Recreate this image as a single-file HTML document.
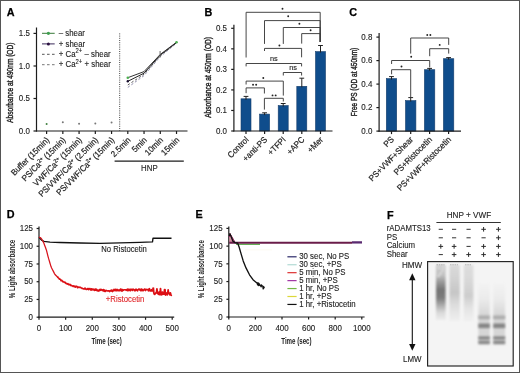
<!DOCTYPE html>
<html><head><meta charset="utf-8"><style>
html,body{margin:0;padding:0;background:#fff;}
svg{display:block;filter:blur(0.35px);}
text{font-family:"Liberation Sans",sans-serif;}
</style></head><body>
<svg width="520" height="373" viewBox="0 0 520 373">
<rect x="0" y="0" width="520" height="373" fill="#fff"/>
<text transform="translate(6.8,16.2) scale(1,1)" font-size="10.8" text-anchor="start" fill="#000" font-weight="bold" stroke="#000" stroke-width="0.25">A</text>
<line x1="36.5" y1="27.5" x2="36.5" y2="131.55" stroke="#1c1c1c" stroke-width="1.2" />
<line x1="35.95" y1="131" x2="187.5" y2="131" stroke="#1c1c1c" stroke-width="1.2" />
<line x1="33.5" y1="33.4" x2="36.5" y2="33.4" stroke="#1c1c1c" stroke-width="1.2" />
<text transform="translate(29.8,36.1) scale(0.93,1)" font-size="8.56" text-anchor="end" fill="#222" font-weight="normal" stroke="#222" stroke-width="0.12" >1.5</text>
<line x1="33.5" y1="66" x2="36.5" y2="66" stroke="#1c1c1c" stroke-width="1.2" />
<text transform="translate(29.8,68.7) scale(0.93,1)" font-size="8.56" text-anchor="end" fill="#222" font-weight="normal" stroke="#222" stroke-width="0.12" >1.0</text>
<line x1="33.5" y1="98.5" x2="36.5" y2="98.5" stroke="#1c1c1c" stroke-width="1.2" />
<text transform="translate(29.8,101.2) scale(0.93,1)" font-size="8.56" text-anchor="end" fill="#222" font-weight="normal" stroke="#222" stroke-width="0.12" >0.5</text>
<line x1="33.5" y1="131" x2="36.5" y2="131" stroke="#1c1c1c" stroke-width="1.2" />
<text transform="translate(29.8,133.7) scale(0.93,1)" font-size="8.56" text-anchor="end" fill="#222" font-weight="normal" stroke="#222" stroke-width="0.12" >0.0</text>
<line x1="46.6" y1="131" x2="46.6" y2="134" stroke="#1c1c1c" stroke-width="1.2" />
<line x1="62.84" y1="131" x2="62.84" y2="134" stroke="#1c1c1c" stroke-width="1.2" />
<line x1="79.08" y1="131" x2="79.08" y2="134" stroke="#1c1c1c" stroke-width="1.2" />
<line x1="95.32" y1="131" x2="95.32" y2="134" stroke="#1c1c1c" stroke-width="1.2" />
<line x1="111.56" y1="131" x2="111.56" y2="134" stroke="#1c1c1c" stroke-width="1.2" />
<line x1="127.8" y1="131" x2="127.8" y2="134" stroke="#1c1c1c" stroke-width="1.2" />
<line x1="144.04" y1="131" x2="144.04" y2="134" stroke="#1c1c1c" stroke-width="1.2" />
<line x1="160.28" y1="131" x2="160.28" y2="134" stroke="#1c1c1c" stroke-width="1.2" />
<line x1="176.52" y1="131" x2="176.52" y2="134" stroke="#1c1c1c" stroke-width="1.2" />
<text transform="translate(12.9,82.7) rotate(-90) scale(1,1)" font-size="9" text-anchor="middle" fill="#222" font-weight="normal" textLength="80.1" lengthAdjust="spacingAndGlyphs" stroke="#222" stroke-width="0.4">Absorbance at 490nm (OD)</text>
<line x1="119.7" y1="33.4" x2="119.7" y2="131" stroke="#444" stroke-width="1.0" stroke-dasharray="1 1.2"/>
<circle cx="46.6" cy="123.9" r="1.0" fill="#3f7f3f"/>
<circle cx="62.84" cy="122.2" r="1.0" fill="#777"/>
<circle cx="79.08" cy="123.7" r="1.0" fill="#777"/>
<circle cx="95.32" cy="123.5" r="1.0" fill="#777"/>
<circle cx="111.56" cy="122.6" r="1.0" fill="#777"/>
<polyline points="127.8,87.4 144.04,75.6 160.28,56.6 176.52,43.2" fill="none" stroke="#8a88a8" stroke-width="0.95" stroke-linejoin="round" stroke-dasharray="2.4 2"/>
<polyline points="127.8,85 144.04,74.2 160.28,55.8 176.52,42.8" fill="none" stroke="#555" stroke-width="0.95" stroke-linejoin="round" stroke-dasharray="2.4 2"/>
<polyline points="127.8,81.3 144.04,73.2 160.28,55 176.52,42.6" fill="none" stroke="#222" stroke-width="1.0" stroke-linejoin="round" />
<polyline points="127.8,77.7 144.04,71.6 160.28,54.4 176.52,42.2" fill="none" stroke="#333" stroke-width="1.0" stroke-linejoin="round" />
<circle cx="127.8" cy="77.7" r="1.3" fill="#4caf50"/>
<circle cx="176.52" cy="42.2" r="1.3" fill="#4caf50"/>
<circle cx="127.8" cy="81.3" r="1.2" fill="#1a1030"/>
<line x1="160.1" y1="51" x2="160.1" y2="57.5" stroke="#555" stroke-width="0.9" />
<line x1="42" y1="33.3" x2="54.7" y2="33.3" stroke="#3a7a3a" stroke-width="1.0" />
<circle cx="48.4" cy="33.3" r="1.6" fill="#3f9f4f"/>
<line x1="42" y1="43.9" x2="54.7" y2="43.9" stroke="#3a2a5a" stroke-width="1.0" />
<circle cx="48.4" cy="43.9" r="1.5" fill="#2a1040"/>
<line x1="42" y1="54.3" x2="54.7" y2="54.3" stroke="#555" stroke-width="1.0" stroke-dasharray="2.6 2.4"/>
<line x1="42" y1="64.7" x2="54.7" y2="64.7" stroke="#777" stroke-width="1.0" stroke-dasharray="2.6 2.4"/>
<text transform="translate(58.8,35.9) scale(0.93,1)" font-size="8.45" text-anchor="start" fill="#222" font-weight="normal" stroke="#222" stroke-width="0.12" >– shear</text>
<text transform="translate(58.8,46.5) scale(0.93,1)" font-size="8.45" text-anchor="start" fill="#222" font-weight="normal" stroke="#222" stroke-width="0.12" >+ shear</text>
<text transform="translate(58.8,56.9) scale(0.93,1)" font-size="8.45" text-anchor="start" fill="#222" font-weight="normal" stroke="#222" stroke-width="0.12" >+ Ca<tspan font-size="6.3" dy="-3.5">2+</tspan><tspan dy="3.5"> </tspan> – shear</text>
<text transform="translate(58.8,67.3) scale(0.93,1)" font-size="8.45" text-anchor="start" fill="#222" font-weight="normal" stroke="#222" stroke-width="0.12" >+ Ca<tspan font-size="6.3" dy="-3.5">2+</tspan><tspan dy="3.5"> </tspan>+ shear</text>
<text transform="translate(50,140.6) rotate(-45) scale(0.93,1)" font-size="8.56" text-anchor="end" fill="#222" font-weight="normal" stroke="#222" stroke-width="0.2">Buffer (15min)</text>
<text transform="translate(66.24,140.6) rotate(-45) scale(0.93,1)" font-size="8.56" text-anchor="end" fill="#222" font-weight="normal" stroke="#222" stroke-width="0.2">PS/Ca<tspan font-size="5.6" dy="-2.9">2+</tspan><tspan dy="2.9"> (</tspan>15min)</text>
<text transform="translate(82.48,140.6) rotate(-45) scale(0.93,1)" font-size="8.56" text-anchor="end" fill="#222" font-weight="normal" stroke="#222" stroke-width="0.2">VWF/Ca<tspan font-size="5.6" dy="-2.9">2+</tspan><tspan dy="2.9"> (</tspan>15min)</text>
<text transform="translate(98.72,140.6) rotate(-45) scale(0.93,1)" font-size="8.56" text-anchor="end" fill="#222" font-weight="normal" stroke="#222" stroke-width="0.2">PS/VWF/Ca<tspan font-size="5.6" dy="-2.9">2+</tspan><tspan dy="2.9"> (</tspan>2.5min)</text>
<text transform="translate(114.96,140.6) rotate(-45) scale(0.93,1)" font-size="8.56" text-anchor="end" fill="#222" font-weight="normal" stroke="#222" stroke-width="0.2">PS/VWF/Ca<tspan font-size="5.6" dy="-2.9">2+</tspan><tspan dy="2.9"> (</tspan>15min)</text>
<text transform="translate(131.2,140.6) rotate(-45) scale(0.93,1)" font-size="8.56" text-anchor="end" fill="#222" font-weight="normal" stroke="#222" stroke-width="0.2">2.5min</text>
<text transform="translate(147.44,140.6) rotate(-45) scale(0.93,1)" font-size="8.56" text-anchor="end" fill="#222" font-weight="normal" stroke="#222" stroke-width="0.2">5min</text>
<text transform="translate(163.68,140.6) rotate(-45) scale(0.93,1)" font-size="8.56" text-anchor="end" fill="#222" font-weight="normal" stroke="#222" stroke-width="0.2">10min</text>
<text transform="translate(179.92,140.6) rotate(-45) scale(0.93,1)" font-size="8.56" text-anchor="end" fill="#222" font-weight="normal" stroke="#222" stroke-width="0.2">15min</text>
<line x1="114.6" y1="161.1" x2="183.8" y2="161.1" stroke="#1c1c1c" stroke-width="1.1" />
<text transform="translate(149.4,171) scale(0.93,1)" font-size="8.45" text-anchor="middle" fill="#222" font-weight="normal" stroke="#222" stroke-width="0.12" >HNP</text>
<text transform="translate(204.5,16.3) scale(1,1)" font-size="10.8" text-anchor="start" fill="#000" font-weight="bold" stroke="#000" stroke-width="0.25">B</text>
<line x1="233.9" y1="24.7" x2="233.9" y2="131.55" stroke="#1c1c1c" stroke-width="1.2" />
<line x1="231.2" y1="131" x2="233.9" y2="131" stroke="#1c1c1c" stroke-width="1.2" />
<text transform="translate(227,133.7) scale(0.93,1)" font-size="8.56" text-anchor="end" fill="#222" font-weight="normal" stroke="#222" stroke-width="0.12" >0.0</text>
<line x1="231.2" y1="110.46" x2="233.9" y2="110.46" stroke="#1c1c1c" stroke-width="1.2" />
<text transform="translate(227,113.16) scale(0.93,1)" font-size="8.56" text-anchor="end" fill="#222" font-weight="normal" stroke="#222" stroke-width="0.12" >0.1</text>
<line x1="231.2" y1="89.92" x2="233.9" y2="89.92" stroke="#1c1c1c" stroke-width="1.2" />
<text transform="translate(227,92.62) scale(0.93,1)" font-size="8.56" text-anchor="end" fill="#222" font-weight="normal" stroke="#222" stroke-width="0.12" >0.2</text>
<line x1="231.2" y1="69.38" x2="233.9" y2="69.38" stroke="#1c1c1c" stroke-width="1.2" />
<text transform="translate(227,72.08) scale(0.93,1)" font-size="8.56" text-anchor="end" fill="#222" font-weight="normal" stroke="#222" stroke-width="0.12" >0.3</text>
<line x1="231.2" y1="48.84" x2="233.9" y2="48.84" stroke="#1c1c1c" stroke-width="1.2" />
<text transform="translate(227,51.54) scale(0.93,1)" font-size="8.56" text-anchor="end" fill="#222" font-weight="normal" stroke="#222" stroke-width="0.12" >0.4</text>
<line x1="231.2" y1="28.3" x2="233.9" y2="28.3" stroke="#1c1c1c" stroke-width="1.2" />
<text transform="translate(227,31) scale(0.93,1)" font-size="8.56" text-anchor="end" fill="#222" font-weight="normal" stroke="#222" stroke-width="0.12" >0.5</text>
<text transform="translate(210.9,77.4) rotate(-90) scale(1,1)" font-size="9" text-anchor="middle" fill="#222" font-weight="normal" textLength="80.8" lengthAdjust="spacingAndGlyphs" stroke="#222" stroke-width="0.4">Absorbance at 450nm (OD)</text>
<line x1="246" y1="131" x2="246" y2="134" stroke="#1c1c1c" stroke-width="1.2" />
<rect x="241" y="98.8" width="10" height="32.2" fill="#0f4d8c" stroke="#173f6c" stroke-width="0.6"/>
<line x1="246" y1="96.4" x2="246" y2="99.8" stroke="#222" stroke-width="1.0" />
<line x1="243.6" y1="96.4" x2="248.4" y2="96.4" stroke="#222" stroke-width="1.0" />
<line x1="264.6" y1="131" x2="264.6" y2="134" stroke="#1c1c1c" stroke-width="1.2" />
<rect x="259.6" y="114.1" width="10" height="16.9" fill="#0f4d8c" stroke="#173f6c" stroke-width="0.6"/>
<line x1="264.6" y1="112.8" x2="264.6" y2="115.1" stroke="#222" stroke-width="1.0" />
<line x1="262.2" y1="112.8" x2="267" y2="112.8" stroke="#222" stroke-width="1.0" />
<line x1="283.2" y1="131" x2="283.2" y2="134" stroke="#1c1c1c" stroke-width="1.2" />
<rect x="278.2" y="105.6" width="10" height="25.4" fill="#0f4d8c" stroke="#173f6c" stroke-width="0.6"/>
<line x1="283.2" y1="103.5" x2="283.2" y2="106.6" stroke="#222" stroke-width="1.0" />
<line x1="280.8" y1="103.5" x2="285.6" y2="103.5" stroke="#222" stroke-width="1.0" />
<line x1="301.8" y1="131" x2="301.8" y2="134" stroke="#1c1c1c" stroke-width="1.2" />
<rect x="296.8" y="86.3" width="10" height="44.7" fill="#0f4d8c" stroke="#173f6c" stroke-width="0.6"/>
<line x1="301.8" y1="78.2" x2="301.8" y2="87.3" stroke="#222" stroke-width="1.0" />
<line x1="299.4" y1="78.2" x2="304.2" y2="78.2" stroke="#222" stroke-width="1.0" />
<line x1="320.5" y1="131" x2="320.5" y2="134" stroke="#1c1c1c" stroke-width="1.2" />
<rect x="315.5" y="51.6" width="10" height="79.4" fill="#0f4d8c" stroke="#173f6c" stroke-width="0.6"/>
<line x1="320.5" y1="45.5" x2="320.5" y2="52.6" stroke="#222" stroke-width="1.0" />
<line x1="318.1" y1="45.5" x2="322.9" y2="45.5" stroke="#222" stroke-width="1.0" />
<line x1="233.35" y1="131" x2="332.5" y2="131" stroke="#1c1c1c" stroke-width="1.2" />
<polyline points="246.1,57.5 246.1,12.3 320.2,12.3 320.2,42" fill="none" stroke="#3c3c3c" stroke-width="0.95" stroke-linejoin="round" />
<polyline points="264.5,43.9 264.5,20.6 320.2,20.6 320.2,42" fill="none" stroke="#3c3c3c" stroke-width="0.95" stroke-linejoin="round" />
<polyline points="283.3,43.9 283.3,27.5 320.2,27.5 320.2,42" fill="none" stroke="#3c3c3c" stroke-width="0.95" stroke-linejoin="round" />
<polyline points="301.7,43.6 301.7,33.6 320.2,33.6 320.2,42" fill="none" stroke="#3c3c3c" stroke-width="0.95" stroke-linejoin="round" />
<polyline points="264.5,51 264.5,48.4 301.6,48.4 301.6,57.3" fill="none" stroke="#3c3c3c" stroke-width="0.95" stroke-linejoin="round" />
<polyline points="246.1,66.4 246.1,63.5 301.6,63.5 301.6,66.4" fill="none" stroke="#3c3c3c" stroke-width="0.95" stroke-linejoin="round" />
<polyline points="283.3,75.5 283.3,72.5 301.6,72.5 301.6,75.5" fill="none" stroke="#3c3c3c" stroke-width="0.95" stroke-linejoin="round" />
<polyline points="246.1,84.5 246.1,81.1 283.3,81.1 283.3,95.6" fill="none" stroke="#3c3c3c" stroke-width="0.95" stroke-linejoin="round" />
<polyline points="246.1,93.2 246.1,87.9 264.4,87.9 264.4,93.5" fill="none" stroke="#3c3c3c" stroke-width="0.95" stroke-linejoin="round" />
<polyline points="264.4,109.6 264.4,98.3 283.3,98.3 283.3,101.5" fill="none" stroke="#3c3c3c" stroke-width="0.95" stroke-linejoin="round" />
<circle cx="282.5" cy="8.8" r="0.95" fill="#222"/>
<circle cx="288.2" cy="16.3" r="0.95" fill="#222"/>
<circle cx="299.4" cy="23.7" r="0.95" fill="#222"/>
<circle cx="310.6" cy="30.3" r="0.95" fill="#222"/>
<circle cx="279.4" cy="45.5" r="0.95" fill="#222"/>
<circle cx="263.3" cy="78" r="0.95" fill="#222"/>
<circle cx="253.05" cy="84.7" r="0.95" fill="#222"/>
<circle cx="256.15" cy="84.7" r="0.95" fill="#222"/>
<circle cx="272.55" cy="95.4" r="0.95" fill="#222"/>
<circle cx="275.65" cy="95.4" r="0.95" fill="#222"/>
<text transform="translate(273.8,60.7) scale(0.93,1)" font-size="7.92" text-anchor="middle" fill="#222" font-weight="normal" stroke="#222" stroke-width="0.12" >ns</text>
<text transform="translate(293.1,70.1) scale(0.93,1)" font-size="7.92" text-anchor="middle" fill="#222" font-weight="normal" stroke="#222" stroke-width="0.12" >ns</text>
<text transform="translate(249.2,140.3) rotate(-45) scale(0.93,1)" font-size="8.56" text-anchor="end" fill="#222" font-weight="normal" stroke="#222" stroke-width="0.2">Control</text>
<text transform="translate(267.8,140.3) rotate(-45) scale(0.93,1)" font-size="8.56" text-anchor="end" fill="#222" font-weight="normal" stroke="#222" stroke-width="0.2">+anti-PS</text>
<text transform="translate(286.4,140.3) rotate(-45) scale(0.93,1)" font-size="8.56" text-anchor="end" fill="#222" font-weight="normal" stroke="#222" stroke-width="0.2">+TFPI</text>
<text transform="translate(305,140.3) rotate(-45) scale(0.93,1)" font-size="8.56" text-anchor="end" fill="#222" font-weight="normal" stroke="#222" stroke-width="0.2">+APC</text>
<text transform="translate(323.7,140.3) rotate(-45) scale(0.93,1)" font-size="8.56" text-anchor="end" fill="#222" font-weight="normal" stroke="#222" stroke-width="0.2">+Mer</text>
<text transform="translate(349.3,16.3) scale(1,1)" font-size="10.8" text-anchor="start" fill="#000" font-weight="bold" stroke="#000" stroke-width="0.25">C</text>
<line x1="379.1" y1="33.1" x2="379.1" y2="131.65" stroke="#1c1c1c" stroke-width="1.2" />
<line x1="376.4" y1="131.1" x2="379.1" y2="131.1" stroke="#1c1c1c" stroke-width="1.2" />
<text transform="translate(372.4,133.8) scale(0.93,1)" font-size="8.56" text-anchor="end" fill="#222" font-weight="normal" stroke="#222" stroke-width="0.12" >0.0</text>
<line x1="376.4" y1="107.6" x2="379.1" y2="107.6" stroke="#1c1c1c" stroke-width="1.2" />
<text transform="translate(372.4,110.3) scale(0.93,1)" font-size="8.56" text-anchor="end" fill="#222" font-weight="normal" stroke="#222" stroke-width="0.12" >0.2</text>
<line x1="376.4" y1="84.1" x2="379.1" y2="84.1" stroke="#1c1c1c" stroke-width="1.2" />
<text transform="translate(372.4,86.8) scale(0.93,1)" font-size="8.56" text-anchor="end" fill="#222" font-weight="normal" stroke="#222" stroke-width="0.12" >0.4</text>
<line x1="376.4" y1="60.6" x2="379.1" y2="60.6" stroke="#1c1c1c" stroke-width="1.2" />
<text transform="translate(372.4,63.3) scale(0.93,1)" font-size="8.56" text-anchor="end" fill="#222" font-weight="normal" stroke="#222" stroke-width="0.12" >0.6</text>
<line x1="376.4" y1="37.1" x2="379.1" y2="37.1" stroke="#1c1c1c" stroke-width="1.2" />
<text transform="translate(372.4,39.8) scale(0.93,1)" font-size="8.56" text-anchor="end" fill="#222" font-weight="normal" stroke="#222" stroke-width="0.12" >0.8</text>
<text transform="translate(357,82) rotate(-90) scale(1,1)" font-size="9" text-anchor="middle" fill="#222" font-weight="normal" textLength="68.4" lengthAdjust="spacingAndGlyphs" stroke="#222" stroke-width="0.4">Free PS (OD at 450nm)</text>
<line x1="391.5" y1="131.1" x2="391.5" y2="134.1" stroke="#1c1c1c" stroke-width="1.2" />
<rect x="386.3" y="78.6" width="10.4" height="52.5" fill="#0f4d8c" stroke="#173f6c" stroke-width="0.6"/>
<line x1="389.1" y1="76.6" x2="393.9" y2="76.6" stroke="#222" stroke-width="1.0" />
<line x1="391.5" y1="76.6" x2="391.5" y2="79.6" stroke="#222" stroke-width="1.0" />
<line x1="410.7" y1="131.1" x2="410.7" y2="134.1" stroke="#1c1c1c" stroke-width="1.2" />
<rect x="405.5" y="100.6" width="10.4" height="30.5" fill="#0f4d8c" stroke="#173f6c" stroke-width="0.6"/>
<line x1="408.3" y1="97.6" x2="413.1" y2="97.6" stroke="#222" stroke-width="1.0" />
<line x1="410.7" y1="97.6" x2="410.7" y2="101.6" stroke="#222" stroke-width="1.0" />
<line x1="429.6" y1="131.1" x2="429.6" y2="134.1" stroke="#1c1c1c" stroke-width="1.2" />
<rect x="424.4" y="69.7" width="10.4" height="61.4" fill="#0f4d8c" stroke="#173f6c" stroke-width="0.6"/>
<line x1="427.2" y1="68.4" x2="432" y2="68.4" stroke="#222" stroke-width="1.0" />
<line x1="429.6" y1="68.4" x2="429.6" y2="70.7" stroke="#222" stroke-width="1.0" />
<line x1="448.6" y1="131.1" x2="448.6" y2="134.1" stroke="#1c1c1c" stroke-width="1.2" />
<rect x="443.4" y="58.7" width="10.4" height="72.4" fill="#0f4d8c" stroke="#173f6c" stroke-width="0.6"/>
<line x1="446.2" y1="57.6" x2="451" y2="57.6" stroke="#222" stroke-width="1.0" />
<line x1="448.6" y1="57.6" x2="448.6" y2="59.7" stroke="#222" stroke-width="1.0" />
<line x1="378.55" y1="131.1" x2="461" y2="131.1" stroke="#1c1c1c" stroke-width="1.2" />
<polyline points="410.7,53.6 410.7,38 448.7,38 448.7,44.9" fill="none" stroke="#3c3c3c" stroke-width="0.95" stroke-linejoin="round" />
<polyline points="429.7,56.2 429.7,48.7 448.7,48.7 448.7,53.6" fill="none" stroke="#3c3c3c" stroke-width="0.95" stroke-linejoin="round" />
<polyline points="391.6,64 391.6,60.5 429.7,60.5 429.7,67.4" fill="none" stroke="#3c3c3c" stroke-width="0.95" stroke-linejoin="round" />
<polyline points="391.6,74.3 391.6,69.7 410.7,69.7 410.7,97.6" fill="none" stroke="#3c3c3c" stroke-width="0.95" stroke-linejoin="round" />
<circle cx="427.25" cy="35" r="0.95" fill="#222"/>
<circle cx="430.35" cy="35" r="0.95" fill="#222"/>
<circle cx="439.7" cy="44.9" r="0.95" fill="#222"/>
<circle cx="411.2" cy="56.7" r="0.95" fill="#222"/>
<circle cx="401.5" cy="66.5" r="0.95" fill="#222"/>
<text transform="translate(394.5,140.1) rotate(-45) scale(0.93,1)" font-size="8.56" text-anchor="end" fill="#222" font-weight="normal" stroke="#222" stroke-width="0.2">PS</text>
<text transform="translate(413.7,140.1) rotate(-45) scale(0.93,1)" font-size="8.56" text-anchor="end" fill="#222" font-weight="normal" stroke="#222" stroke-width="0.2">PS+VWF+Shear</text>
<text transform="translate(432.6,140.1) rotate(-45) scale(0.93,1)" font-size="8.56" text-anchor="end" fill="#222" font-weight="normal" stroke="#222" stroke-width="0.2">PS+Ristocetin</text>
<text transform="translate(451.6,140.1) rotate(-45) scale(0.93,1)" font-size="8.56" text-anchor="end" fill="#222" font-weight="normal" stroke="#222" stroke-width="0.2">PS+VWF+Ristocetin</text>
<text transform="translate(6.8,218.3) scale(1,1)" font-size="10.8" text-anchor="start" fill="#000" font-weight="bold" stroke="#000" stroke-width="0.25">D</text>
<line x1="39" y1="226.4" x2="39" y2="317.75" stroke="#1c1c1c" stroke-width="1.2" />
<line x1="38.45" y1="317.2" x2="174.2" y2="317.2" stroke="#1c1c1c" stroke-width="1.2" />
<line x1="36.6" y1="317.2" x2="39" y2="317.2" stroke="#1c1c1c" stroke-width="1.2" />
<text transform="translate(33,319.9) scale(0.93,1)" font-size="8.56" text-anchor="end" fill="#222" font-weight="normal" stroke="#222" stroke-width="0.12" >0</text>
<line x1="36.6" y1="299.46" x2="39" y2="299.46" stroke="#1c1c1c" stroke-width="1.2" />
<text transform="translate(33,302.16) scale(0.93,1)" font-size="8.56" text-anchor="end" fill="#222" font-weight="normal" stroke="#222" stroke-width="0.12" >25</text>
<line x1="36.6" y1="281.72" x2="39" y2="281.72" stroke="#1c1c1c" stroke-width="1.2" />
<text transform="translate(33,284.42) scale(0.93,1)" font-size="8.56" text-anchor="end" fill="#222" font-weight="normal" stroke="#222" stroke-width="0.12" >50</text>
<line x1="36.6" y1="263.98" x2="39" y2="263.98" stroke="#1c1c1c" stroke-width="1.2" />
<text transform="translate(33,266.68) scale(0.93,1)" font-size="8.56" text-anchor="end" fill="#222" font-weight="normal" stroke="#222" stroke-width="0.12" >75</text>
<line x1="36.6" y1="246.24" x2="39" y2="246.24" stroke="#1c1c1c" stroke-width="1.2" />
<text transform="translate(33,248.94) scale(0.93,1)" font-size="8.56" text-anchor="end" fill="#222" font-weight="normal" stroke="#222" stroke-width="0.12" >100</text>
<line x1="36.6" y1="228.5" x2="39" y2="228.5" stroke="#1c1c1c" stroke-width="1.2" />
<text transform="translate(33,231.2) scale(0.93,1)" font-size="8.56" text-anchor="end" fill="#222" font-weight="normal" stroke="#222" stroke-width="0.12" >125</text>
<line x1="39" y1="317.2" x2="39" y2="319.8" stroke="#1c1c1c" stroke-width="1.2" />
<text transform="translate(39,331) scale(0.93,1)" font-size="8.56" text-anchor="middle" fill="#222" font-weight="normal" stroke="#222" stroke-width="0.12" >0</text>
<line x1="65.64" y1="317.2" x2="65.64" y2="319.8" stroke="#1c1c1c" stroke-width="1.2" />
<text transform="translate(65.64,331) scale(0.93,1)" font-size="8.56" text-anchor="middle" fill="#222" font-weight="normal" stroke="#222" stroke-width="0.12" >100</text>
<line x1="92.28" y1="317.2" x2="92.28" y2="319.8" stroke="#1c1c1c" stroke-width="1.2" />
<text transform="translate(92.28,331) scale(0.93,1)" font-size="8.56" text-anchor="middle" fill="#222" font-weight="normal" stroke="#222" stroke-width="0.12" >200</text>
<line x1="118.92" y1="317.2" x2="118.92" y2="319.8" stroke="#1c1c1c" stroke-width="1.2" />
<text transform="translate(118.92,331) scale(0.93,1)" font-size="8.56" text-anchor="middle" fill="#222" font-weight="normal" stroke="#222" stroke-width="0.12" >300</text>
<line x1="145.56" y1="317.2" x2="145.56" y2="319.8" stroke="#1c1c1c" stroke-width="1.2" />
<text transform="translate(145.56,331) scale(0.93,1)" font-size="8.56" text-anchor="middle" fill="#222" font-weight="normal" stroke="#222" stroke-width="0.12" >400</text>
<line x1="172.2" y1="317.2" x2="172.2" y2="319.8" stroke="#1c1c1c" stroke-width="1.2" />
<text transform="translate(172.2,331) scale(0.93,1)" font-size="8.56" text-anchor="middle" fill="#222" font-weight="normal" stroke="#222" stroke-width="0.12" >500</text>
<text transform="translate(106.6,343.8) scale(1,1)" font-size="9" text-anchor="middle" fill="#222" font-weight="bold" textLength="30.3" lengthAdjust="spacingAndGlyphs" >Time (sec)</text>
<text transform="translate(14.5,269) rotate(-90) scale(1,1)" font-size="9" text-anchor="middle" fill="#222" font-weight="bold" textLength="58.6" lengthAdjust="spacingAndGlyphs">% Light absorbance</text>
<polyline points="39,237.4 41.5,240.1 44,241.4 50,242.1 60,242.5 80,243 100,243.3 120,242.8 140,242.3 152.5,241.9 153,238.2 171.5,238.2" fill="none" stroke="#111" stroke-width="1.35" stroke-linejoin="round" />
<text transform="translate(101.3,251.7) scale(0.93,1)" font-size="8.45" text-anchor="start" fill="#222" font-weight="normal" textLength="49.01" lengthAdjust="spacingAndGlyphs" stroke="#222" stroke-width="0.12" >No Ristocetin</text>
<polyline points="39,237.2 39.5,237.37 40,237.53 40.5,237.7 41,238.11 41.5,238.9 42,239.69 42.5,240.54 43,241.43 43.5,242.32 44,243.57 44.5,244.91 45,246.25 45.5,247.59 46,248.93 46.5,250.39 47,252.37 47.5,254.34 48,256.32 48.5,258.17 49,259.85 49.5,261.53 50,263.21 50.5,264.89 51,266.56 51.5,267.69 52,268.68 52.5,269.66 53,270.65 53.5,271.64 54,272.62 54.5,273.61 55,274.5 55.5,275 56,275.5 56.5,276 57,276.5 57.5,277 58,277.5" fill="none" stroke="#d8121b" stroke-width="1.25" stroke-linejoin="round" />
<polyline points="57.5,276.76 58,277.54 58.5,277.88 59,278.6 59.5,279.12 60,279.08 60.5,279.52 61,280.62 61.5,280.32 62,280.57 62.5,281.63 63,281.37 63.5,282.04 64,281.93 64.5,282.39 65,282.14 65.5,282.95 66,283.49 66.5,283.39 67,283.92 67.5,284.12 68,283.69 68.5,284.66 69,284.63 69.5,284.44 70,284.27 70.5,285.45 71,285.13 71.5,285.59 72,285.96 72.5,285.91 73,286.34 73.5,285.82 74,286.51 74.5,286.21 75,287.02 75.5,287.11 76,286.16 76.5,286.3 77,286.51 77.5,287.65 78,287.02 78.5,287.39 79,287.02 79.5,287.42 80,287.34 80.5,287.39 81,287.84 81.5,287.94 82,288.52 82.5,288.29 83,288.77 83.5,288.76 84,289.08 84.5,288.69 85,287.98 85.5,289.15 86,289.39 86.5,289.37 87,288.9 87.5,289.21 88,288.45 88.5,289.55 89,289.19 89.5,288.77 90,288.47 90.5,289.88 91,290.18 91.5,288.7 92,290 92.5,289.39 93,289 93.5,289.32 94,290.24 94.5,290.48 95,289.02 95.5,290.09 96,289.08 96.5,290.35 97,289.66 97.5,290.72 98,290.95 98.5,290.09 99,291.06 99.5,289.78 100,289.36 100.5,290.4 101,289.32 101.5,289.68 102,290.12 102.5,290.56 103,289.68 103.5,289.48 104,291.18 104.5,290.09 105,291.44 105.5,291.35 106,290.31 106.5,290.52 107,290.68 107.5,290.97 108,290.9 108.5,290.81 109,290.92 109.5,291.59 110,290.63 110.5,290.45 111,291.06 111.5,289.97 112,290.09 112.5,291.58 113,290.54 113.5,290.58 114,289.34 114.5,290.24 115,290.59 115.5,289.28 116,290.63 116.5,290.65 117,289.3 117.5,290.6 118,290.2 118.5,290.69 119,289.89 119.5,290.72 120,290.77 120.5,289.04 121,289.13 121.5,290.59 122,291.27 122.5,289.55 123,290.04 123.5,290.35 124,289.69 124.5,289.78 125,289.65 125.5,289.78 126,290.31 126.5,289.59 127,289.77 127.5,290.7 128,288.9 128.5,290.2 129,290.58 129.5,289.55 130,289.33 130.5,290.72 131,289.35 131.5,289.22 132,289.8 132.5,290.43 133,288.98 133.5,289.5 134,289.52 134.5,290.71 135,289.75 135.5,290.75 136,289.1 136.5,289.5 137,290.25 137.5,290.81 138,289.77 138.5,289.22 139,288.97 139.5,289.95 140,289.13 140.5,290.6 141,290.68 141.5,289.1 142,289.33 142.5,290.59 143,290.19 143.5,290.59 144,289.48 144.5,288.96 145,289.34 145.5,290.55 146,289.29 146.5,289.47 147,289.63 147.5,289.64 148,289.61 148.5,290.83 149,288.99 149.5,288.63 150,290.88 150.5,290.72 151,290.98 151.5,289.65 152,290.88 152.5,290.83 153,289.13 153.3,287.6" fill="none" stroke="#dc0f14" stroke-width="1.6" stroke-linejoin="round" />
<polyline points="153.3,287.6 153.8,292.5 154.2,293.98 154.65,294.28 155.1,293.77 155.55,293.36 156,292.69 156.45,292.86 156.9,289 157.35,292.08 157.8,293.66 158.25,292.77 158.7,294.36 159.15,292.08 159.6,294.67 160.05,294.06 160.5,288.6 160.95,294.71 161.4,294.74 161.85,293.78 162.3,292.11 162.75,294.33 163.2,292.62 163.65,293.03 164.1,294.13 164.55,289.6 165,289.6 165.45,295.02 165.9,294.05 166.35,293.26 166.8,293.01 167.25,294.85 167.7,293.72 168.15,290 168.6,293.38 169.05,292.93 169.5,293.96 169.95,294.83 170.4,292.91 170.85,294.79 171.3,295.2 171.75,294.87" fill="none" stroke="#dc0f14" stroke-width="1.8" stroke-linejoin="round" />
<text transform="translate(105.8,301.8) scale(0.93,1)" font-size="8.45" text-anchor="start" fill="#e0262a" font-weight="normal" textLength="41.52" lengthAdjust="spacingAndGlyphs" stroke="#e0262a" stroke-width="0.12" >+Ristocetin</text>
<text transform="translate(195.6,218.4) scale(1,1)" font-size="10.8" text-anchor="start" fill="#000" font-weight="bold" stroke="#000" stroke-width="0.25">E</text>
<line x1="228.8" y1="226.4" x2="228.8" y2="317.55" stroke="#1c1c1c" stroke-width="1.2" />
<line x1="228.25" y1="317" x2="364.6" y2="317" stroke="#1c1c1c" stroke-width="1.2" />
<line x1="226.4" y1="317" x2="228.8" y2="317" stroke="#1c1c1c" stroke-width="1.2" />
<text transform="translate(222.6,319.7) scale(0.93,1)" font-size="8.56" text-anchor="end" fill="#222" font-weight="normal" stroke="#222" stroke-width="0.12" >0</text>
<line x1="226.4" y1="299.28" x2="228.8" y2="299.28" stroke="#1c1c1c" stroke-width="1.2" />
<text transform="translate(222.6,301.98) scale(0.93,1)" font-size="8.56" text-anchor="end" fill="#222" font-weight="normal" stroke="#222" stroke-width="0.12" >25</text>
<line x1="226.4" y1="281.56" x2="228.8" y2="281.56" stroke="#1c1c1c" stroke-width="1.2" />
<text transform="translate(222.6,284.26) scale(0.93,1)" font-size="8.56" text-anchor="end" fill="#222" font-weight="normal" stroke="#222" stroke-width="0.12" >50</text>
<line x1="226.4" y1="263.84" x2="228.8" y2="263.84" stroke="#1c1c1c" stroke-width="1.2" />
<text transform="translate(222.6,266.54) scale(0.93,1)" font-size="8.56" text-anchor="end" fill="#222" font-weight="normal" stroke="#222" stroke-width="0.12" >75</text>
<line x1="226.4" y1="246.12" x2="228.8" y2="246.12" stroke="#1c1c1c" stroke-width="1.2" />
<text transform="translate(222.6,248.82) scale(0.93,1)" font-size="8.56" text-anchor="end" fill="#222" font-weight="normal" stroke="#222" stroke-width="0.12" >100</text>
<line x1="226.4" y1="228.4" x2="228.8" y2="228.4" stroke="#1c1c1c" stroke-width="1.2" />
<text transform="translate(222.6,231.1) scale(0.93,1)" font-size="8.56" text-anchor="end" fill="#222" font-weight="normal" stroke="#222" stroke-width="0.12" >125</text>
<line x1="228.8" y1="317" x2="228.8" y2="319.6" stroke="#1c1c1c" stroke-width="1.2" />
<text transform="translate(228.8,331) scale(0.93,1)" font-size="8.56" text-anchor="middle" fill="#222" font-weight="normal" stroke="#222" stroke-width="0.12" >0</text>
<line x1="255.4" y1="317" x2="255.4" y2="319.6" stroke="#1c1c1c" stroke-width="1.2" />
<text transform="translate(255.4,331) scale(0.93,1)" font-size="8.56" text-anchor="middle" fill="#222" font-weight="normal" stroke="#222" stroke-width="0.12" >200</text>
<line x1="282" y1="317" x2="282" y2="319.6" stroke="#1c1c1c" stroke-width="1.2" />
<text transform="translate(282,331) scale(0.93,1)" font-size="8.56" text-anchor="middle" fill="#222" font-weight="normal" stroke="#222" stroke-width="0.12" >400</text>
<line x1="308.6" y1="317" x2="308.6" y2="319.6" stroke="#1c1c1c" stroke-width="1.2" />
<text transform="translate(308.6,331) scale(0.93,1)" font-size="8.56" text-anchor="middle" fill="#222" font-weight="normal" stroke="#222" stroke-width="0.12" >600</text>
<line x1="335.2" y1="317" x2="335.2" y2="319.6" stroke="#1c1c1c" stroke-width="1.2" />
<text transform="translate(335.2,331) scale(0.93,1)" font-size="8.56" text-anchor="middle" fill="#222" font-weight="normal" stroke="#222" stroke-width="0.12" >800</text>
<line x1="361.8" y1="317" x2="361.8" y2="319.6" stroke="#1c1c1c" stroke-width="1.2" />
<text transform="translate(361.8,331) scale(0.93,1)" font-size="8.56" text-anchor="middle" fill="#222" font-weight="normal" stroke="#222" stroke-width="0.12" >1000</text>
<text transform="translate(296.4,343.8) scale(1,1)" font-size="9" text-anchor="middle" fill="#222" font-weight="bold" textLength="30.3" lengthAdjust="spacingAndGlyphs" >Time (sec)</text>
<text transform="translate(203.6,269.2) rotate(-90) scale(1,1)" font-size="9" text-anchor="middle" fill="#222" font-weight="bold" textLength="58.2" lengthAdjust="spacingAndGlyphs">% Light absorbance</text>
<path d="M229.2,236.5 L230.0,233.4 L235.2,242.0 L229.2,242.0 Z" fill="#c9718a" opacity="0.8"/>
<polyline points="229.2,237 230,233.6 234.8,242.2" fill="none" stroke="#b33a6a" stroke-width="0.9" stroke-linejoin="round" />
<polyline points="229.2,237 230,233.6 234.8,242.2" fill="none" stroke="#8d2a6a" stroke-width="0.9" stroke-linejoin="round" />
<line x1="245" y1="249.8" x2="272" y2="249.8" stroke="#fbfaee" stroke-width="0.8" />
<line x1="236" y1="244.3" x2="260" y2="244.3" stroke="#55a845" stroke-width="1.2" />
<line x1="229.2" y1="242.8" x2="352" y2="242.8" stroke="#6a1c4a" stroke-width="2.0" />
<line x1="352" y1="242.4" x2="362" y2="242.4" stroke="#5a2a70" stroke-width="2.3" />
<polyline points="229.4,236 229.9,233.8 231.5,237.5 232.9,241.2 235,242.6 237,243 237.7,243.2 239.1,247 241.1,253.9 243.2,260.9 246,267.9 249.5,274.8 253,279.7 257.2,283.2 257.6,284.77 257.95,282.71 258.3,284.68 258.65,285.56 259,283.51 259.35,284.36 259.7,284.58 260.05,285.53 260.4,285.46 260.75,285.83 261.1,286.91 261.45,284.97 261.8,285.34 262.15,285.77 262.5,285.99 262.85,286.06 263.2,288.83 263.55,288.72 263.9,286.8 264.25,288.19" fill="none" stroke="#111" stroke-width="1.35" stroke-linejoin="round" />
<line x1="287.4" y1="256.8" x2="296.6" y2="256.8" stroke="#2a2868" stroke-width="1.2" />
<text transform="translate(299.2,259.4) scale(0.93,1)" font-size="8.45" text-anchor="start" fill="#222" font-weight="normal" stroke="#222" stroke-width="0.12" >30 sec, No PS</text>
<line x1="287.4" y1="264.74" x2="296.6" y2="264.74" stroke="#b2dad4" stroke-width="1.2" />
<text transform="translate(299.2,267.34) scale(0.93,1)" font-size="8.45" text-anchor="start" fill="#222" font-weight="normal" stroke="#222" stroke-width="0.12" >30 sec, +PS</text>
<line x1="287.4" y1="272.68" x2="296.6" y2="272.68" stroke="#dd3030" stroke-width="1.2" />
<text transform="translate(299.2,275.28) scale(0.93,1)" font-size="8.45" text-anchor="start" fill="#222" font-weight="normal" stroke="#222" stroke-width="0.12" >5 min, No PS</text>
<line x1="287.4" y1="280.62" x2="296.6" y2="280.62" stroke="#a23aa6" stroke-width="1.2" />
<text transform="translate(299.2,283.22) scale(0.93,1)" font-size="8.45" text-anchor="start" fill="#222" font-weight="normal" stroke="#222" stroke-width="0.12" >5 min, +PS</text>
<line x1="287.4" y1="288.56" x2="296.6" y2="288.56" stroke="#73b846" stroke-width="1.2" />
<text transform="translate(299.2,291.16) scale(0.93,1)" font-size="8.45" text-anchor="start" fill="#222" font-weight="normal" stroke="#222" stroke-width="0.12" >1 hr, No PS</text>
<line x1="287.4" y1="296.5" x2="296.6" y2="296.5" stroke="#dcd83a" stroke-width="1.2" />
<text transform="translate(299.2,299.1) scale(0.93,1)" font-size="8.45" text-anchor="start" fill="#222" font-weight="normal" stroke="#222" stroke-width="0.12" >1 hr, +PS</text>
<line x1="287.4" y1="304.44" x2="296.6" y2="304.44" stroke="#111" stroke-width="1.2" />
<text transform="translate(299.2,307.04) scale(0.93,1)" font-size="8.45" text-anchor="start" fill="#222" font-weight="normal" stroke="#222" stroke-width="0.12" >1 hr, +Ristocetin</text>
<text transform="translate(386.9,218.5) scale(1,1)" font-size="10.8" text-anchor="start" fill="#000" font-weight="bold" stroke="#000" stroke-width="0.25">F</text>
<text transform="translate(468.9,217.7) scale(0.93,1)" font-size="8.45" text-anchor="middle" fill="#222" font-weight="normal" textLength="47.72" lengthAdjust="spacingAndGlyphs" stroke="#222" stroke-width="0.12" >HNP + VWF</text>
<line x1="436.4" y1="222.5" x2="500.8" y2="222.5" stroke="#333" stroke-width="1.2" />
<text transform="translate(386.7,231.2) scale(0.93,1)" font-size="8.45" text-anchor="start" fill="#222" font-weight="normal" stroke="#222" stroke-width="0.12" >rADAMTS13</text>
<text transform="translate(386.7,239.7) scale(0.93,1)" font-size="8.45" text-anchor="start" fill="#222" font-weight="normal" stroke="#222" stroke-width="0.12" >PS</text>
<text transform="translate(386.7,248.3) scale(0.93,1)" font-size="8.45" text-anchor="start" fill="#222" font-weight="normal" stroke="#222" stroke-width="0.12" >Calcium</text>
<text transform="translate(386.7,256.5) scale(0.93,1)" font-size="8.45" text-anchor="start" fill="#222" font-weight="normal" stroke="#222" stroke-width="0.12" >Shear</text>
<line x1="438.7" y1="229.3" x2="442.9" y2="229.3" stroke="#333" stroke-width="1.0" />
<line x1="452" y1="229.3" x2="456.2" y2="229.3" stroke="#333" stroke-width="1.0" />
<line x1="466.5" y1="229.3" x2="470.7" y2="229.3" stroke="#333" stroke-width="1.0" />
<line x1="481.3" y1="229.3" x2="485.9" y2="229.3" stroke="#2a2a2a" stroke-width="1.0" />
<line x1="483.6" y1="227" x2="483.6" y2="231.6" stroke="#2a2a2a" stroke-width="1.0" />
<line x1="496.1" y1="229.3" x2="500.7" y2="229.3" stroke="#2a2a2a" stroke-width="1.0" />
<line x1="498.4" y1="227" x2="498.4" y2="231.6" stroke="#2a2a2a" stroke-width="1.0" />
<line x1="438.7" y1="237.8" x2="442.9" y2="237.8" stroke="#333" stroke-width="1.0" />
<line x1="452" y1="237.8" x2="456.2" y2="237.8" stroke="#333" stroke-width="1.0" />
<line x1="466.5" y1="237.8" x2="470.7" y2="237.8" stroke="#333" stroke-width="1.0" />
<line x1="481.5" y1="237.8" x2="485.7" y2="237.8" stroke="#333" stroke-width="1.0" />
<line x1="496.1" y1="237.8" x2="500.7" y2="237.8" stroke="#2a2a2a" stroke-width="1.0" />
<line x1="498.4" y1="235.5" x2="498.4" y2="240.1" stroke="#2a2a2a" stroke-width="1.0" />
<line x1="438.5" y1="246.4" x2="443.1" y2="246.4" stroke="#2a2a2a" stroke-width="1.0" />
<line x1="440.8" y1="244.1" x2="440.8" y2="248.7" stroke="#2a2a2a" stroke-width="1.0" />
<line x1="451.8" y1="246.4" x2="456.4" y2="246.4" stroke="#2a2a2a" stroke-width="1.0" />
<line x1="454.1" y1="244.1" x2="454.1" y2="248.7" stroke="#2a2a2a" stroke-width="1.0" />
<line x1="466.5" y1="246.4" x2="470.7" y2="246.4" stroke="#333" stroke-width="1.0" />
<line x1="481.3" y1="246.4" x2="485.9" y2="246.4" stroke="#2a2a2a" stroke-width="1.0" />
<line x1="483.6" y1="244.1" x2="483.6" y2="248.7" stroke="#2a2a2a" stroke-width="1.0" />
<line x1="496.1" y1="246.4" x2="500.7" y2="246.4" stroke="#2a2a2a" stroke-width="1.0" />
<line x1="498.4" y1="244.1" x2="498.4" y2="248.7" stroke="#2a2a2a" stroke-width="1.0" />
<line x1="438.7" y1="254.6" x2="442.9" y2="254.6" stroke="#333" stroke-width="1.0" />
<line x1="451.8" y1="254.6" x2="456.4" y2="254.6" stroke="#2a2a2a" stroke-width="1.0" />
<line x1="454.1" y1="252.3" x2="454.1" y2="256.9" stroke="#2a2a2a" stroke-width="1.0" />
<line x1="466.3" y1="254.6" x2="470.9" y2="254.6" stroke="#2a2a2a" stroke-width="1.0" />
<line x1="468.6" y1="252.3" x2="468.6" y2="256.9" stroke="#2a2a2a" stroke-width="1.0" />
<line x1="481.3" y1="254.6" x2="485.9" y2="254.6" stroke="#2a2a2a" stroke-width="1.0" />
<line x1="483.6" y1="252.3" x2="483.6" y2="256.9" stroke="#2a2a2a" stroke-width="1.0" />
<line x1="496.1" y1="254.6" x2="500.7" y2="254.6" stroke="#2a2a2a" stroke-width="1.0" />
<line x1="498.4" y1="252.3" x2="498.4" y2="256.9" stroke="#2a2a2a" stroke-width="1.0" />
<text transform="translate(412,267.9) scale(0.93,1)" font-size="8.45" text-anchor="middle" fill="#222" font-weight="normal" textLength="21.72" lengthAdjust="spacingAndGlyphs" stroke="#222" stroke-width="0.12" >HMW</text>
<text transform="translate(412.3,362.3) scale(0.93,1)" font-size="8.45" text-anchor="middle" fill="#222" font-weight="normal" textLength="19.9" lengthAdjust="spacingAndGlyphs" stroke="#222" stroke-width="0.12" >LMW</text>
<line x1="412.3" y1="277" x2="412.3" y2="347" stroke="#111" stroke-width="1.1" />
<path d="M412.3,273.3 L409.1,280.2 L415.5,280.2 Z" fill="#111"/>
<path d="M412.3,350.8 L409.1,343.9 L415.5,343.9 Z" fill="#111"/>
<defs><linearGradient id="l1" x1="0" y1="0" x2="0" y2="1"><stop offset="0" stop-color="#cacaca"/><stop offset="0.18" stop-color="#c2c2c2"/><stop offset="0.3" stop-color="#9c9c9c"/><stop offset="0.45" stop-color="#747474"/><stop offset="0.6" stop-color="#7c7c7c"/><stop offset="0.72" stop-color="#a8a8a8"/><stop offset="0.86" stop-color="#d8d8d8"/><stop offset="1" stop-color="#ececec"/></linearGradient><linearGradient id="l2" x1="0" y1="0" x2="0" y2="1"><stop offset="0" stop-color="#dadada"/><stop offset="0.25" stop-color="#d2d2d2"/><stop offset="0.5" stop-color="#c6c6c6"/><stop offset="0.7" stop-color="#dcdcdc"/><stop offset="1" stop-color="#efefef"/></linearGradient><linearGradient id="l3" x1="0" y1="0" x2="0" y2="1"><stop offset="0" stop-color="#dedede"/><stop offset="0.3" stop-color="#d8d8d8"/><stop offset="0.55" stop-color="#cdcdcd"/><stop offset="0.75" stop-color="#e2e2e2"/><stop offset="1" stop-color="#f0f0f0"/></linearGradient><linearGradient id="l4" x1="0" y1="0" x2="0" y2="1"><stop offset="0" stop-color="#f3f3f3"/><stop offset="0.5" stop-color="#eaeaea"/><stop offset="1" stop-color="#d6d6d6"/></linearGradient><filter id="bl" x="-30%" y="-30%" width="160%" height="160%"><feGaussianBlur stdDeviation="1.0"/></filter><filter id="bl2" x="-30%" y="-30%" width="160%" height="160%"><feGaussianBlur stdDeviation="1.0"/></filter></defs>
<rect x="427.6" y="261.6" width="85.6" height="104.4" fill="#f4f4f4"/>
<g filter="url(#bl)">
<rect x="436" y="265" width="9.6" height="55" fill="url(#l1)"/>
<rect x="449.4" y="265" width="10.4" height="56" fill="url(#l2)"/>
<rect x="463.8" y="265" width="9.6" height="56" fill="url(#l3)"/>
<rect x="478.4" y="283" width="11.4" height="33" fill="url(#l4)"/>
<rect x="478.4" y="315" width="11.4" height="30" fill="#d6d6d6"/>
<rect x="493.3" y="283" width="11.8" height="33" fill="url(#l4)"/>
<rect x="493.3" y="315" width="11.8" height="30" fill="#d6d6d6"/>
</g>
<g filter="url(#bl2)">
<rect x="478.4" y="315.6" width="11.4" height="3.6" fill="#acacac"/>
<rect x="478.4" y="323.5" width="11.4" height="4.6" fill="#858585"/>
<rect x="478.4" y="336.45" width="11.4" height="2.9" fill="#808080"/>
<rect x="478.4" y="340.85" width="11.4" height="2.9" fill="#828282"/>
<rect x="493.3" y="315.6" width="11.8" height="3.6" fill="#acacac"/>
<rect x="493.3" y="323.5" width="11.8" height="4.6" fill="#858585"/>
<rect x="493.3" y="336.45" width="11.8" height="2.9" fill="#808080"/>
<rect x="493.3" y="340.85" width="11.8" height="2.9" fill="#828282"/>
<circle cx="439" cy="268" r="0.9" fill="#f4f4f4"/>
<circle cx="442.5" cy="270.5" r="0.9" fill="#f4f4f4"/>
<circle cx="440.5" cy="273.5" r="0.9" fill="#f4f4f4"/>
<circle cx="443" cy="267.5" r="0.9" fill="#f4f4f4"/>
<circle cx="438.5" cy="276" r="0.9" fill="#f4f4f4"/>
</g>
<rect x="427.6" y="261.6" width="85.6" height="104.4" fill="none" stroke="#222" stroke-width="1.15"/>
<line x1="436.5" y1="264.8" x2="444.5" y2="264.8" stroke="#9a9a9a" stroke-width="0.7" stroke-dasharray="1.5 0.8"/>
<line x1="450" y1="264.8" x2="458" y2="264.8" stroke="#9a9a9a" stroke-width="0.7" stroke-dasharray="1.5 0.8"/>
<line x1="465" y1="264.8" x2="471" y2="264.8" stroke="#9a9a9a" stroke-width="0.7" stroke-dasharray="1.5 0.8"/>
<rect x="0.5" y="0.5" width="519" height="372" fill="none" stroke="#555" stroke-width="1"/>
</svg>
</body></html>
